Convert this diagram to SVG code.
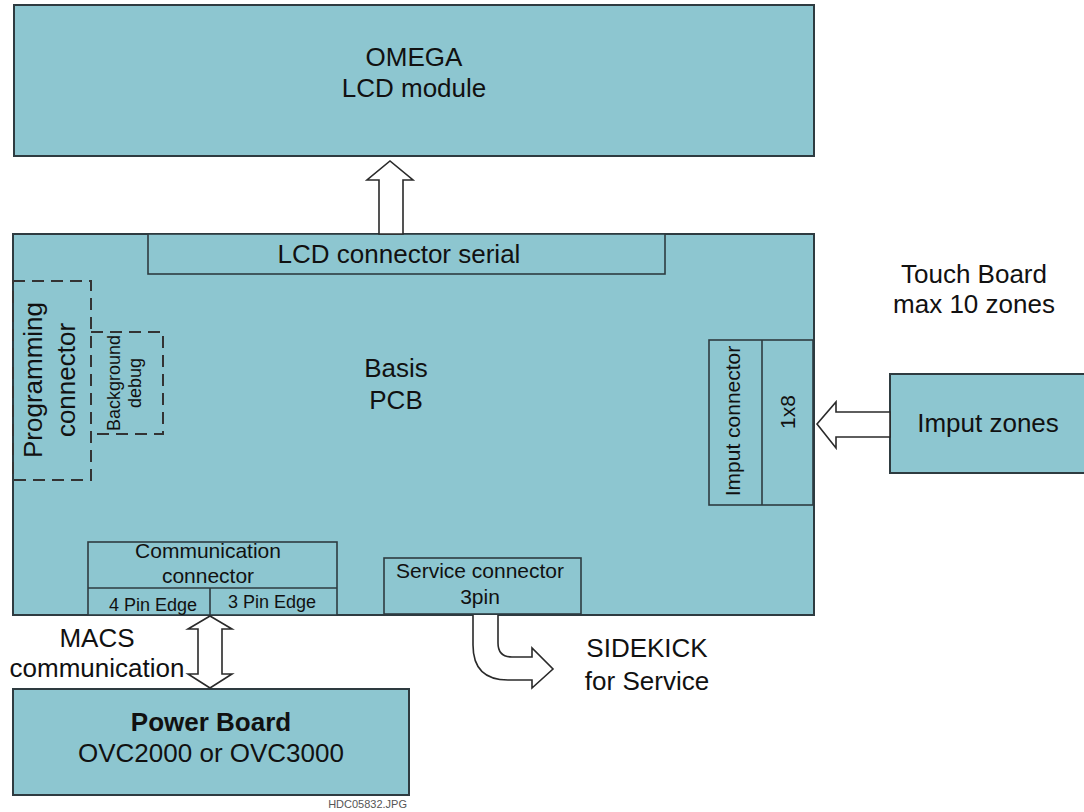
<svg xmlns="http://www.w3.org/2000/svg" width="1084" height="812" viewBox="0 0 1084 812">
<style>
.box{fill:#8DC6D0;stroke:#2E3B40;stroke-width:2}
.sub{fill:#8DC6D0;stroke:#2E3B40;stroke-width:1.6}
.dash{fill:none;stroke:#333;stroke-width:2;stroke-dasharray:12,7}
.arr{fill:#fff;stroke:#2A2A2A;stroke-width:1.6;stroke-linejoin:miter}
text{font-family:"Liberation Sans",Arial,sans-serif;fill:#111;text-anchor:middle}
.l{font-size:26px}
.m{font-size:21px}
.s{font-size:18px}
</style>
<rect width="1084" height="812" fill="#fff"/>
<g id="omega">
<rect class="box" x="14" y="5" width="800" height="151"/>
<text class="l" x="414" y="66">OMEGA</text>
<text class="l" x="414" y="97">LCD module</text>
</g>
<g id="basis-pcb">
<rect class="box" x="13" y="234" width="801" height="381"/>
<text class="l" x="396" y="377">Basis</text>
<text class="l" x="396" y="409">PCB</text>
</g>
<g id="lcd-connector">
<rect class="sub" x="148" y="234" width="517" height="40"/>
<text class="l" x="399" y="263">LCD connector serial</text>
</g>
<g id="programming-connector">
<rect class="dash" x="13" y="281" width="78" height="199"/>
<g transform="translate(0,380) rotate(-90)">
<text class="l" x="0" y="42">Programming</text>
<text class="l" x="0" y="75">connector</text>
</g>
</g>
<g id="background-debug">
<path class="dash" d="M91,332 H163 V434 H97"/>
<g transform="translate(0,383) rotate(-90)">
<text class="s" x="0" y="120">Background</text>
<text class="s" x="0" y="141">debug</text>
</g>
</g>
<g id="imput-connector">
<rect class="sub" x="709" y="340" width="104" height="165"/>
<line class="sub" x1="762" y1="340" x2="762" y2="505"/>
<g transform="translate(0,421) rotate(-90)">
<text class="m" x="0" y="740">Imput connector</text>
</g>
<g transform="translate(0,412) rotate(-90)">
<text class="m" x="0" y="795">1x8</text>
</g>
</g>
<g id="communication-connector">
<rect class="sub" x="88" y="542" width="249" height="73"/>
<line class="sub" x1="88" y1="588" x2="337" y2="588"/>
<line class="sub" x1="210" y1="588" x2="210" y2="615"/>
<text class="m" x="208" y="558">Communication</text>
<text class="m" x="208" y="583">connector</text>
<text class="s" x="153" y="611">4 Pin Edge</text>
<text class="s" x="272" y="608">3 Pin Edge</text>
</g>
<g id="service-connector">
<rect class="sub" x="384" y="558" width="197" height="56"/>
<text class="m" x="480" y="578">Service connector</text>
<text class="m" x="480" y="604">3pin</text>
</g>
<g id="imput-zones">
<rect class="box" x="890" y="374" width="210" height="99"/>
<text class="l" x="988" y="432">Imput zones</text>
</g>
<g id="touch-board-label">
<text class="l" x="974" y="283">Touch Board</text>
<text class="l" x="974" y="313">max 10 zones</text>
</g>
<g id="power-board">
<rect class="box" x="13" y="689" width="396" height="106"/>
<text class="l" x="211" y="731" font-weight="bold">Power Board</text>
<text class="l" x="211" y="762">OVC2000 or OVC3000</text>
</g>
<g id="connectors">
<polygon class="arr" points="379,234 379,180 367,180 390,161 413,180 403,180 403,234"/>
<polygon class="arr" points="890,412 836,412 836,402 817,424 836,448 836,437 890,437"/>
<polygon class="arr" points="210,616 232,629 222,629 222,674 232,674 210,688 188,674 198,674 198,629 188,629"/>
<path class="arr" d="M473,615 L473,645 Q473,680 508,680 L532,680 L532,688 L553,669 L532,648 L532,657 L512,657 Q498,657 498,643 L498,615"/>
</g>
<g id="labels">
<text class="l" x="97" y="647">MACS</text>
<text class="l" x="97" y="677">communication</text>
<text class="l" x="647" y="657">SIDEKICK</text>
<text class="l" x="647" y="690">for Service</text>
<text x="407" y="808" style="font-size:11px;fill:#555;text-anchor:end">HDC05832.JPG</text>
</g>
</svg>
